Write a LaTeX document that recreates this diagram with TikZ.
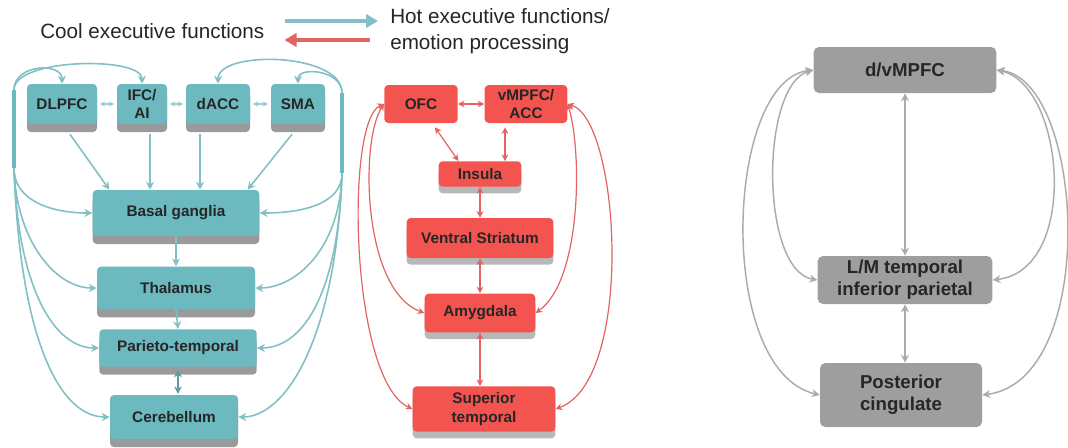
\documentclass[tikz,border=0pt]{standalone}
\usepackage{fontspec}
\setmainfont{Liberation Sans}
\usepackage{tikz}
\usetikzlibrary{arrows.meta, positioning, calc, shadows}

\definecolor{coolfill}{HTML}{6CB9C0}
\definecolor{coolline}{HTML}{82C0C5}
\definecolor{cooldark}{HTML}{5A9EA4}
\definecolor{hotfill}{HTML}{F4544F}
\definecolor{hotline}{HTML}{E26462}
\definecolor{grayfill}{HTML}{9E9E9E}
\definecolor{grayline}{HTML}{ABABAB}
\definecolor{shadowgray}{HTML}{9A9A9A}

\tikzset{
  nodefont/.style={font=\fontsize{11.5}{14}\selectfont\bfseries, text=black!85, align=center, inner sep=0pt},
  coolbox/.style={nodefont, rectangle, rounded corners=3pt, fill=coolfill,
    drop shadow={shadow xshift=0pt, shadow yshift=-6pt, fill=shadowgray, opacity=1}},
  hotbox/.style={nodefont, rectangle, rounded corners=3pt, fill=hotfill},
  hotlow/.style={hotbox, drop shadow={shadow xshift=0pt, shadow yshift=-5pt, fill=shadowgray!70, opacity=1}},
  graybox/.style={font=\fontsize{14}{16.5}\selectfont\bfseries, text=black!85, align=center,
    inner sep=0pt, rectangle, rounded corners=4pt, fill=grayfill},
  bar/.style={fill=coolfill, minimum width=3pt, inner sep=0pt},
  legend/.style={font=\fontsize{15.5}{19.5}\selectfont, text=black!85, inner sep=0pt},
  coolarrow/.style={draw=coolline, line width=1.2pt, -{Stealth[length=6pt,width=6pt]}},
  coolpair/.style={draw=coolline!80, line width=1pt, {Stealth[length=4pt,width=4pt]}-{Stealth[length=4pt,width=4pt]}, shorten <=2pt, shorten >=2pt},
  hotpair/.style={draw=hotline, line width=0.9pt, {Stealth[length=5pt,width=5pt]}-{Stealth[length=5pt,width=5pt]}},
  graypair/.style={draw=grayline, line width=1.1pt, {Stealth[length=6pt,width=6pt]}-{Stealth[length=6pt,width=6pt]}}
}

\begin{document}
\begin{tikzpicture}[x=0.75pt, y=-0.75pt]
\useasboundingbox (0,0) rectangle (1068,447);

% legend
\node[legend, anchor=west] (coolkey) at (40,31) {Cool executive functions};
\node[legend, anchor=west, align=left] (hotkey) at (390,31) {Hot executive functions/\\emotion processing};
\draw[draw=coolline, line width=3pt, -{Triangle[length=9pt,width=10pt]}, shorten <=15pt, shorten >=9pt]
  ([yshift=7.5pt]coolkey.east) -- ([yshift=7.5pt]hotkey.west);
\draw[draw=hotline, line width=3pt, -{Triangle[length=9pt,width=10pt]}, shorten <=15pt, shorten >=15pt]
  ([yshift=-6.75pt]hotkey.west) -- ([yshift=-6.75pt]coolkey.east);

% cool network
\node[coolbox, minimum width=52.5pt, minimum height=30pt] (DLPFC) at (62,104) {DLPFC};
\node[coolbox, minimum width=37.5pt, minimum height=30pt] (IFC) at (142,104) {IFC/\\AI};
\node[coolbox, minimum width=48pt, minimum height=30pt] (dACC) at (218,104) {dACC};
\node[coolbox, minimum width=40.5pt, minimum height=30pt] (SMA) at (298,104) {SMA};
\node[coolbox, minimum width=125pt, minimum height=34.5pt] (BG) at (176,213) {Basal ganglia};
\node[coolbox, minimum width=118.5pt, minimum height=32pt] (Thal) at (176,288) {Thalamus};
\node[coolbox, minimum width=118pt, minimum height=28pt] (Par) at (178,348) {Parieto-temporal};
\node[coolbox, minimum width=96pt, minimum height=33pt] (Cer) at (174,417) {Cerebellum};
\node[bar, minimum height=58.5pt] (lbar) at (14,129) {};
\node[bar, minimum height=60pt] (rbar) at (342,133) {};

\draw[coolpair] (DLPFC) -- (IFC);
\draw[coolpair] (IFC) -- (dACC);
\draw[coolpair] (dACC) -- (SMA);

\draw[coolarrow] (lbar.north) .. controls (14,64) and (62,62) .. (DLPFC.north);
\draw[coolarrow] (lbar.north) .. controls (14,58) and (142,56) .. (IFC.north);
\draw[coolarrow] (rbar.north) .. controls (342,52) and (218,50) .. (dACC.north);
\draw[coolarrow] (rbar.north) .. controls (342,70) and (298,66) .. (SMA.north);

\draw[coolarrow] ($(DLPFC.south)+(8,10)$) -- ($(BG.north west)+(17,0)$);
\draw[coolarrow] ($(IFC.south)+(8,10)$) -- ($(IFC.south |- BG.north)+(8,0)$);
\draw[coolarrow] ($(dACC.south)+(-18,10)$) -- ($(dACC.south |- BG.north)+(-18,0)$);
\draw[coolarrow] ($(SMA.south)+(-6,10)$) -- ($(BG.north east)+(-12,0)$);

\draw[coolarrow] (lbar.south) .. controls (14,200) and (50,213) .. (BG.west);
\draw[coolarrow] (lbar.south) .. controls (16,240) and (55,288) .. (Thal.west);
\draw[coolarrow] (lbar.south) .. controls (18,290) and (55,348) .. (Par.west);
\draw[coolarrow] (lbar.south) .. controls (20,340) and (60,417) .. (Cer.west);
\draw[coolarrow] (rbar.south) .. controls (342,205) and (300,213) .. (BG.east);
\draw[coolarrow] (rbar.south) .. controls (340,250) and (295,288) .. (Thal.east);
\draw[coolarrow] (rbar.south) .. controls (338,300) and (300,348) .. (Par.east);
\draw[coolarrow] (rbar.south) .. controls (336,340) and (285,417) .. (Cer.east);

\draw[coolarrow] (BG.south) -- (Thal.north);
\draw[coolarrow] (Thal.south) -- (Par.north);
\draw[draw=cooldark, line width=1.2pt, {Stealth[length=5.5pt,width=6pt]}-{Stealth[length=5.5pt,width=6pt]}]
  ($(Par.south)+(0,3)$) -- ($(Par.south |- Cer.north)+(0,-1)$);

% hot network
\node[hotbox, minimum width=55pt, minimum height=28.5pt] (OFC) at (421,104) {OFC};
\node[hotbox, minimum width=62pt, minimum height=28.5pt] (vMPFC) at (526,104) {vMPFC/\\ACC};
\node[hotlow, minimum width=62pt, minimum height=19pt] (Insula) at (480,174) {Insula};
\node[hotlow, minimum width=110pt, minimum height=30pt] (VS) at (480,238) {Ventral Striatum};
\node[hotlow, minimum width=83pt, minimum height=29pt] (Amyg) at (480,313) {Amygdala};
\node[hotlow, minimum width=107pt, minimum height=34pt] (SupT) at (484,409) {Superior\\temporal};

\draw[hotpair] (OFC) -- (vMPFC);
\draw[hotpair] ($(OFC.south)+(14,4)$) -- ($(Insula.north west)+(20,0)$);
\draw[hotpair] ($(vMPFC.south)+(-21,4)$) -- ($(Insula.north)+(25,0)$);
\draw[hotpair] (Insula.south) -- (VS.north);
\draw[hotpair] (VS.south) -- (Amyg.north);
\draw[hotpair] (Amyg.south) -- (Amyg.south |- SupT.north);

\draw[hotpair] (OFC.west) .. controls (360,140) and (362,290) .. (Amyg.west);
\draw[hotpair] (OFC.west) .. controls (345,120) and (350,380) .. (SupT.west);
\draw[hotpair] (vMPFC.east) .. controls (582,150) and (582,280) .. (Amyg.east);
\draw[hotpair] (vMPFC.east) .. controls (620,120) and (635,380) .. (SupT.east);

% default mode network
\node[graybox, minimum width=137pt, minimum height=34.5pt] (dv) at (905,70) {d/vMPFC};
\node[graybox, minimum width=131pt, minimum height=36pt] (LM) at (905,280) {L/M temporal\\inferior parietal};
\node[graybox, minimum width=121.5pt, minimum height=48pt] (PC) at (901,395) {Posterior\\cingulate};

\draw[graypair] (dv.south) -- (LM.north);
\draw[graypair] (LM.south) -- (LM.south |- PC.north);
\draw[graypair] (dv.west) .. controls (760,85) and (760,270) .. (LM.west);
\draw[graypair] (dv.west) .. controls (725,80) and (715,370) .. (PC.west);
\draw[graypair] (dv.east) .. controls (1065,85) and (1080,270) .. (LM.east);
\draw[graypair] (dv.east) .. controls (1085,80) and (1100,380) .. (PC.east);
\end{tikzpicture}
\end{document}
